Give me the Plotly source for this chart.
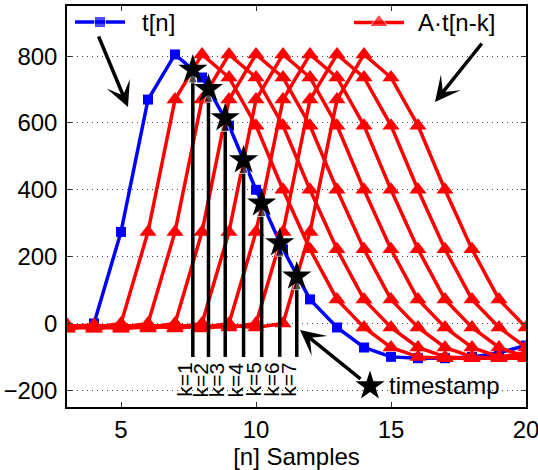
import plotly.graph_objects as go

# ---------------- data ----------------
n_blue = [4, 5, 6, 7, 8, 9, 10, 11, 12, 13, 14, 15, 16, 17, 18, 19, 20]
t_blue = [0, 274, 670, 805, 736, 592, 400, 222, 72, -12, -72, -100, -104, -104, -100, -88, -66]

n_red = [3, 4, 5, 6, 7, 8, 9, 10, 11, 12, 13, 14, 15, 16, 17, 18, 19, 20]
red_k1 = [-6, -12, 0, 274, 670, 805, 736, 592, 400, 222, 72, -12, -72, -100, -104, -104, -100, -88]
red_k2 = [-15, -6, -12, 0, 274, 670, 805, 736, 592, 400, 222, 72, -12, -72, -100, -104, -104, -100]
red_k3 = [-4, -15, -6, -12, 0, 274, 670, 805, 736, 592, 400, 222, 72, -12, -72, -100, -104, -104]
red_k4 = [-10, -4, -15, -6, -12, 0, 274, 670, 805, 736, 592, 400, 222, 72, -12, -72, -100, -104]
red_k5 = [-16, -10, -4, -15, -6, -12, 0, 274, 670, 805, 736, 592, 400, 222, 72, -12, -72, -100]
red_k6 = [-7, -16, -10, -4, -15, -6, -12, 0, 274, 670, 805, 736, 592, 400, 222, 72, -12, -72]
red_k7 = [-11, -7, -16, -10, -4, -15, -6, -12, 0, 274, 670, 805, 736, 592, 400, 222, 72, -12]
red_series = [red_k1, red_k2, red_k3, red_k4, red_k5, red_k6, red_k7]

star_x = [7.66, 8.24, 8.86, 9.54, 10.21, 10.88, 11.51]
star_y = [760, 702, 615, 489, 360, 241, 141]
stem_base = -100
k_labels = ["k=1", "k=2", "k=3", "k=4", "k=5", "k=6", "k=7"]

x_ticks = [5, 10, 15, 20]
y_ticks = [-200, 0, 200, 400, 600, 800]

BLUE = "#0000FF"
RED = "#FF0000"
FONT = "Liberation Sans, Arial, Helvetica, sans-serif"

fig = go.Figure()

# blue series
fig.add_trace(go.Scatter(
    x=n_blue, y=t_blue, mode="lines+markers",
    line=dict(color=BLUE, width=3.5),
    marker=dict(symbol="square", size=10, color=BLUE),
    showlegend=False))

# red shifted series
for ys in red_series:
    fig.add_trace(go.Scatter(
        x=n_red, y=ys, mode="lines+markers",
        line=dict(color=RED, width=3.5),
        marker=dict(symbol="triangle-up", size=15, color=RED),
        showlegend=False))

# vertical arrows from base to timestamps
for sx, sy in zip(star_x, star_y):
    fig.add_trace(go.Scatter(
        x=[sx, sx], y=[stem_base, sy], mode="lines+markers",
        line=dict(color="black", width=3.5),
        marker=dict(symbol=["circle", "arrow"], size=[0, 14], color="black",
                    angleref="previous"),
        showlegend=False))

# stars
fig.add_trace(go.Scatter(
    x=star_x, y=star_y, mode="markers",
    marker=dict(symbol="star", size=22, color="black"),
    showlegend=False))

# ---- legend-like glyphs on a pixel overlay axis ----
fig.add_trace(go.Scatter(
    x=[75, 100, 125], y=[22, 22, 22], mode="lines+markers",
    line=dict(color=BLUE, width=3.5),
    marker=dict(symbol="square", size=[0, 11, 0], color=BLUE),
    xaxis="x2", yaxis="y2", showlegend=False))
fig.add_trace(go.Scatter(
    x=[354, 379, 404], y=[22.5, 22.5, 22.5], mode="lines+markers",
    line=dict(color=RED, width=3.5),
    marker=dict(symbol="triangle-up", size=[0, 16, 0], color=RED),
    xaxis="x2", yaxis="y2", showlegend=False))
fig.add_trace(go.Scatter(
    x=[370], y=[386], mode="markers",
    marker=dict(symbol="star", size=22, color="black"),
    xaxis="x2", yaxis="y2", showlegend=False))

annotations = []
for sx, lab in zip(star_x, k_labels):
    annotations.append(dict(
        x=sx, y=-169, xref="x", yref="y", text=lab, showarrow=False,
        textangle=-90, xanchor="center", yanchor="middle", xshift=-8,
        font=dict(family=FONT, size=21, color="black")))

annotations += [
    dict(x=140, y=22, xref="x2", yref="y2", text="t[n]", showarrow=False,
         xanchor="left", yanchor="middle", font=dict(family=FONT, size=24, color="black")),
    dict(x=416, y=22.5, xref="x2", yref="y2", text="A·t[n-k]", showarrow=False,
         xanchor="left", yanchor="middle", font=dict(family=FONT, size=24, color="black")),
    dict(x=387, y=385, xref="x2", yref="y2", text="timestamp", showarrow=False,
         xanchor="left", yanchor="middle", font=dict(family=FONT, size=24, color="black")),
    # arrows
    dict(x=128, y=107, ax=98, ay=35, xref="x2", yref="y2", axref="x2", ayref="y2",
         showarrow=True, arrowhead=3, arrowsize=1.2, arrowwidth=3.5, arrowcolor="black", text=""),
    dict(x=435, y=102, ax=483, ay=42, xref="x2", yref="y2", axref="x2", ayref="y2",
         showarrow=True, arrowhead=3, arrowsize=1.2, arrowwidth=3.5, arrowcolor="black", text=""),
    dict(x=300, y=330, ax=362, ay=380, xref="x2", yref="y2", axref="x2", ayref="y2",
         showarrow=True, arrowhead=3, arrowsize=1.2, arrowwidth=3.5, arrowcolor="black", text=""),
]

fig.update_layout(
    width=538, height=470,
    margin=dict(l=67, r=12, t=6, b=63, autoexpand=False),
    paper_bgcolor="white", plot_bgcolor="white",
    font=dict(family=FONT, size=24, color="black"),
    xaxis=dict(range=[3, 20], tickvals=x_ticks, ticks="inside", ticklen=5,
               tickcolor="#333", showgrid=False, zeroline=False, automargin=False,
               showline=True, linecolor="black", linewidth=1.5, mirror="ticks",
               ticklabeloverflow="allow",
               tickfont=dict(size=24), title=dict(text="[n] Samples", font=dict(size=24), standoff=1)),
    yaxis=dict(range=[-250, 950], tickvals=y_ticks, ticks="inside", ticklen=5,
               tickcolor="#333", showgrid=True, gridcolor="#444", griddash="1px,4px",
               gridwidth=1, zeroline=False, automargin=False,
               showline=True, linecolor="black", linewidth=1.5, mirror="ticks",
               tickfont=dict(size=24), ticklabelstandoff=3),
    xaxis2=dict(range=[67, 526], overlaying="x", visible=False, fixedrange=True),
    yaxis2=dict(range=[407, 6], overlaying="y", visible=False, fixedrange=True),
    annotations=annotations,
)

fig.write_html("out.html", config={"displayModeBar": False},
               post_script="document.body.style.margin='0';document.body.style.overflow='hidden';")
